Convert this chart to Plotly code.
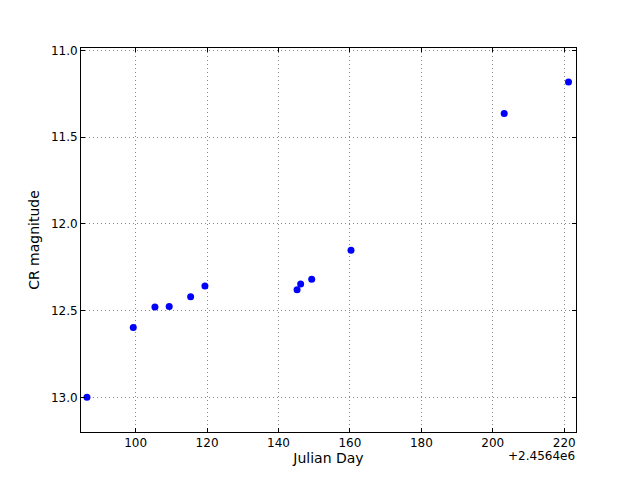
import plotly.graph_objects as go

julian_day = [86.37, 99.33, 105.4, 109.4, 115.4, 119.4, 145.2, 146.2, 149.3, 160.3, 203.2, 221.2]
cr_mag = [13.0, 12.598, 12.479, 12.477, 12.42, 12.358, 12.38, 12.346, 12.32, 12.152, 11.363, 11.182]
x_ticks = [100, 120, 140, 160, 180, 200, 220]
y_ticks = [11.0, 11.5, 12.0, 12.5, 13.0]
offset_text = "+2.4564e6"

fig = go.Figure()
fig.add_trace(go.Scatter(
    x=julian_day, y=cr_mag, mode="markers",
    marker=dict(color="#0000ff", size=7, line=dict(width=0)),
    showlegend=False,
))

axis_common = dict(
    showline=True, linecolor="black", linewidth=1, mirror="ticks",
    ticks="inside", ticklen=4, tickcolor="black",
    showgrid=True, gridcolor="#888888", griddash="1px,3px", gridwidth=1,
    zeroline=False, automargin=False,
    tickfont=dict(family="DejaVu Sans", size=12, color="black"),
)

fig.update_layout(
    width=632, height=472,
    margin=dict(l=73, r=64, t=40, b=48),
    paper_bgcolor="white", plot_bgcolor="white",
    font=dict(family="DejaVu Sans", size=12, color="black"),
    xaxis=dict(range=[84.7, 223.3], tickvals=x_ticks, ticktext=[str(v) for v in x_ticks],
               title=dict(text="Julian Day", standoff=3), **axis_common),
    yaxis=dict(range=[13.2, 10.986], tickvals=y_ticks, ticktext=[f"{v:.1f}" for v in y_ticks],
               title=dict(text="CR magnitude", standoff=7), **axis_common),
    annotations=[dict(text=offset_text, xref="paper", yref="paper", x=1.0, y=0,
                      xanchor="right", yanchor="top", yshift=-16, showarrow=False,
                      borderpad=0,
                      font=dict(family="DejaVu Sans", size=12, color="black"))],
)

fig.write_html("out.html")
